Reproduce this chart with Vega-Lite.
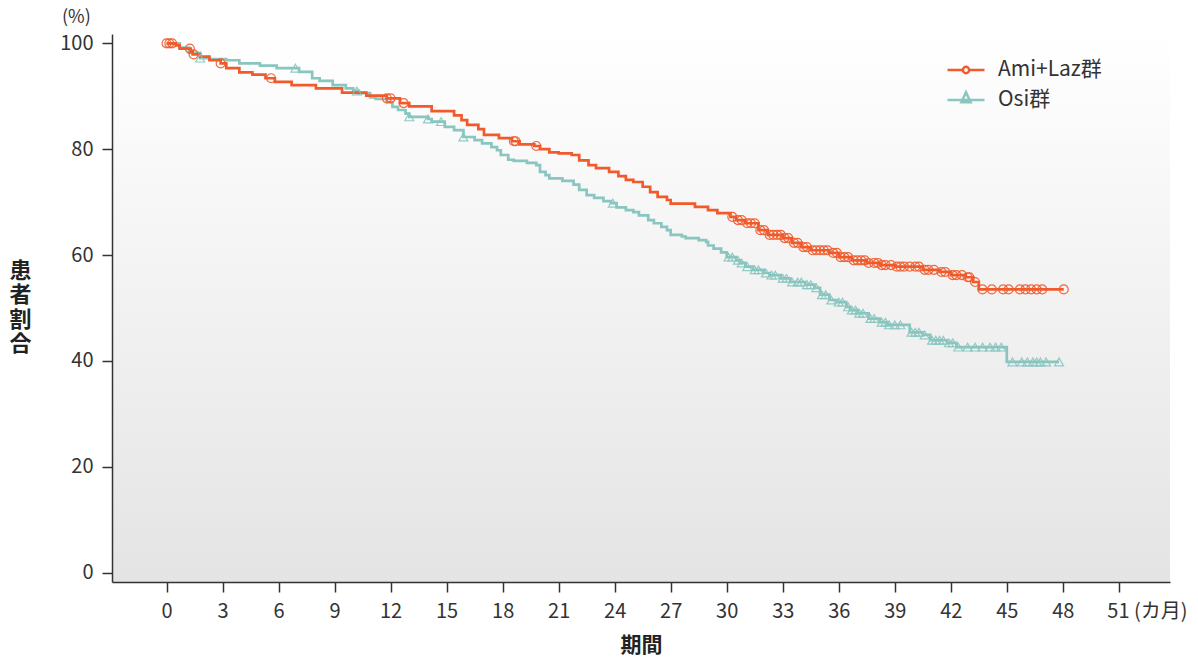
{
  "$schema": "https://vega.github.io/schema/vega-lite/v6.json",
  "width": 1058,
  "height": 548,
  "autosize": {"type": "none"},
  "padding": {"left": 112, "top": 34, "right": 28, "bottom": 76},
  "background": "white",
  "title": {"text": "(%)", "anchor": "start", "frame": "group", "dx": -50, "offset": 6, "fontSize": 18, "fontWeight": "normal", "color": "#333333", "font": "Noto Sans CJK JP"},
  "config": {
    "font": "Noto Sans CJK JP",
    "view": {"stroke": null, "fill": {"gradient": "linear", "x1": 0, "y1": 0, "x2": 0, "y2": 1, "stops": [{"offset": 0, "color": "#ffffff"}, {"offset": 1, "color": "#e4e4e4"}]}},
    "axis": {"domainColor": "#333333", "domainWidth": 1.5, "tickColor": "#333333", "tickWidth": 1.5, "tickSize": 10, "labelFontSize": 20, "labelColor": "#333333", "labelFont": "Noto Sans CJK JP", "titleFont": "Noto Sans CJK JP", "titleColor": "#222222", "grid": false, "labelOverlap": false, "labelBound": false, "labelFlush": false},
    "axisX": {"labelPadding": 9, "titlePadding": 13, "titleFontSize": 21, "titleFontWeight": "bold"},
    "axisY": {"labelPadding": 9}
  },
  "datasets": {
    "curve": [
      {"g":"Osi群","m":0,"v":100},{"g":"Osi群","m":0.7,"v":99.2},{"g":"Osi群","m":1.2,"v":98.2},{"g":"Osi群","m":1.8,"v":97.2},{"g":"Osi群","m":2.3,"v":97.0},{"g":"Osi群","m":3.2,"v":96.8},{"g":"Osi群","m":3.9,"v":96.2},{"g":"Osi群","m":5.0,"v":95.8},{"g":"Osi群","m":5.9,"v":95.3},{"g":"Osi群","m":7.1,"v":94.6},{"g":"Osi群","m":7.8,"v":93.4},{"g":"Osi群","m":8.2,"v":92.9},{"g":"Osi群","m":8.9,"v":92.1},{"g":"Osi群","m":9.6,"v":91.5},{"g":"Osi群","m":10.0,"v":91.0},{"g":"Osi群","m":10.3,"v":90.6},{"g":"Osi群","m":10.9,"v":89.8},{"g":"Osi群","m":11.2,"v":89.5},{"g":"Osi群","m":11.8,"v":88.9},{"g":"Osi群","m":12.1,"v":88.0},{"g":"Osi群","m":12.4,"v":87.4},{"g":"Osi群","m":12.8,"v":86.7},{"g":"Osi群","m":13.0,"v":86.1},{"g":"Osi群","m":14.0,"v":85.7},{"g":"Osi群","m":14.2,"v":85.2},{"g":"Osi群","m":14.9,"v":84.2},{"g":"Osi群","m":15.4,"v":83.6},{"g":"Osi群","m":15.9,"v":82.3},{"g":"Osi群","m":16.5,"v":81.7},{"g":"Osi群","m":16.9,"v":81.1},{"g":"Osi群","m":17.4,"v":80.4},{"g":"Osi群","m":17.7,"v":79.8},{"g":"Osi群","m":17.9,"v":78.9},{"g":"Osi群","m":18.3,"v":78.0},{"g":"Osi群","m":18.6,"v":77.8},{"g":"Osi群","m":19.3,"v":77.4},{"g":"Osi群","m":19.8,"v":77.0},{"g":"Osi群","m":20.0,"v":75.7},{"g":"Osi群","m":20.3,"v":75.1},{"g":"Osi群","m":20.5,"v":74.5},{"g":"Osi群","m":21.2,"v":74.0},{"g":"Osi群","m":21.8,"v":73.3},{"g":"Osi群","m":22.1,"v":72.3},{"g":"Osi群","m":22.5,"v":71.3},{"g":"Osi群","m":22.9,"v":70.8},{"g":"Osi群","m":23.4,"v":70.2},{"g":"Osi群","m":23.8,"v":69.8},{"g":"Osi群","m":24.1,"v":69.0},{"g":"Osi群","m":24.6,"v":68.5},{"g":"Osi群","m":25.0,"v":68.1},{"g":"Osi群","m":25.3,"v":67.5},{"g":"Osi群","m":25.8,"v":66.6},{"g":"Osi群","m":26.1,"v":66.0},{"g":"Osi群","m":26.5,"v":65.3},{"g":"Osi群","m":26.8,"v":64.7},{"g":"Osi群","m":27.0,"v":63.8},{"g":"Osi群","m":27.6,"v":63.5},{"g":"Osi群","m":27.8,"v":63.2},{"g":"Osi群","m":28.5,"v":62.8},{"g":"Osi群","m":28.9,"v":62.5},{"g":"Osi群","m":29.0,"v":61.8},{"g":"Osi群","m":29.3,"v":61.2},{"g":"Osi群","m":29.7,"v":60.5},{"g":"Osi群","m":30.0,"v":59.6},{"g":"Osi群","m":30.5,"v":59.0},{"g":"Osi群","m":30.7,"v":58.5},{"g":"Osi群","m":31.0,"v":57.8},{"g":"Osi群","m":31.4,"v":57.2},{"g":"Osi群","m":32.0,"v":56.6},{"g":"Osi群","m":32.3,"v":56.2},{"g":"Osi群","m":32.9,"v":55.6},{"g":"Osi群","m":33.4,"v":54.9},{"g":"Osi群","m":34.2,"v":54.4},{"g":"Osi群","m":34.7,"v":53.8},{"g":"Osi群","m":35.0,"v":52.5},{"g":"Osi群","m":35.5,"v":51.5},{"g":"Osi群","m":35.9,"v":51.1},{"g":"Osi群","m":36.4,"v":50.2},{"g":"Osi群","m":36.6,"v":49.6},{"g":"Osi群","m":37.0,"v":49.0},{"g":"Osi群","m":37.6,"v":48.0},{"g":"Osi群","m":38.2,"v":47.3},{"g":"Osi群","m":38.6,"v":46.8},{"g":"Osi群","m":39.8,"v":45.4},{"g":"Osi群","m":40.5,"v":44.9},{"g":"Osi群","m":40.9,"v":43.9},{"g":"Osi群","m":41.8,"v":43.4},{"g":"Osi群","m":42.3,"v":42.6},{"g":"Osi群","m":45.0,"v":39.8},{"g":"Osi群","m":47.8,"v":39.8},
      {"g":"Ami+Laz群","m":0,"v":100},{"g":"Ami+Laz群","m":0.5,"v":99.6},{"g":"Ami+Laz群","m":0.7,"v":99.0},{"g":"Ami+Laz群","m":1.3,"v":98.5},{"g":"Ami+Laz群","m":1.4,"v":97.9},{"g":"Ami+Laz群","m":1.8,"v":97.5},{"g":"Ami+Laz群","m":2.3,"v":96.8},{"g":"Ami+Laz群","m":2.9,"v":96.2},{"g":"Ami+Laz群","m":3.2,"v":95.3},{"g":"Ami+Laz群","m":3.9,"v":94.5},{"g":"Ami+Laz群","m":4.6,"v":94.1},{"g":"Ami+Laz群","m":5.3,"v":93.4},{"g":"Ami+Laz群","m":5.8,"v":92.7},{"g":"Ami+Laz群","m":6.7,"v":92.1},{"g":"Ami+Laz群","m":8.0,"v":91.5},{"g":"Ami+Laz群","m":9.4,"v":90.7},{"g":"Ami+Laz群","m":10.7,"v":90.1},{"g":"Ami+Laz群","m":11.8,"v":89.6},{"g":"Ami+Laz群","m":12.5,"v":88.7},{"g":"Ami+Laz群","m":13.0,"v":88.1},{"g":"Ami+Laz群","m":14.2,"v":87.2},{"g":"Ami+Laz群","m":15.4,"v":86.4},{"g":"Ami+Laz群","m":15.8,"v":85.5},{"g":"Ami+Laz群","m":16.1,"v":84.6},{"g":"Ami+Laz群","m":16.7,"v":83.8},{"g":"Ami+Laz群","m":17.0,"v":82.7},{"g":"Ami+Laz群","m":17.8,"v":82.1},{"g":"Ami+Laz群","m":18.5,"v":81.5},{"g":"Ami+Laz群","m":18.9,"v":80.9},{"g":"Ami+Laz群","m":19.7,"v":80.6},{"g":"Ami+Laz群","m":20.0,"v":80.0},{"g":"Ami+Laz群","m":20.5,"v":79.4},{"g":"Ami+Laz群","m":21.0,"v":79.2},{"g":"Ami+Laz群","m":21.7,"v":78.9},{"g":"Ami+Laz群","m":22.1,"v":77.9},{"g":"Ami+Laz群","m":22.6,"v":77.0},{"g":"Ami+Laz群","m":23.0,"v":76.4},{"g":"Ami+Laz群","m":23.7,"v":75.7},{"g":"Ami+Laz群","m":24.2,"v":74.9},{"g":"Ami+Laz群","m":24.6,"v":74.2},{"g":"Ami+Laz群","m":25.0,"v":73.8},{"g":"Ami+Laz群","m":25.5,"v":72.9},{"g":"Ami+Laz群","m":25.9,"v":71.9},{"g":"Ami+Laz群","m":26.3,"v":71.0},{"g":"Ami+Laz群","m":26.8,"v":70.4},{"g":"Ami+Laz群","m":27.0,"v":69.7},{"g":"Ami+Laz群","m":28.3,"v":69.1},{"g":"Ami+Laz群","m":29.0,"v":68.5},{"g":"Ami+Laz群","m":29.5,"v":67.9},{"g":"Ami+Laz群","m":30.2,"v":67.2},{"g":"Ami+Laz群","m":30.5,"v":66.6},{"g":"Ami+Laz群","m":31.0,"v":66.0},{"g":"Ami+Laz群","m":31.7,"v":64.7},{"g":"Ami+Laz群","m":32.2,"v":63.8},{"g":"Ami+Laz群","m":33.0,"v":63.2},{"g":"Ami+Laz群","m":33.5,"v":62.3},{"g":"Ami+Laz群","m":34.0,"v":61.5},{"g":"Ami+Laz群","m":34.5,"v":60.9},{"g":"Ami+Laz群","m":35.5,"v":60.4},{"g":"Ami+Laz群","m":36.0,"v":59.6},{"g":"Ami+Laz群","m":36.7,"v":59.0},{"g":"Ami+Laz群","m":37.5,"v":58.5},{"g":"Ami+Laz群","m":38.2,"v":58.1},{"g":"Ami+Laz群","m":39.0,"v":57.8},{"g":"Ami+Laz群","m":40.5,"v":57.2},{"g":"Ami+Laz群","m":41.4,"v":56.8},{"g":"Ami+Laz群","m":42.0,"v":56.2},{"g":"Ami+Laz群","m":42.8,"v":55.8},{"g":"Ami+Laz群","m":43.2,"v":54.9},{"g":"Ami+Laz群","m":43.5,"v":53.5},{"g":"Ami+Laz群","m":48.05,"v":53.5}
    ],
    "cens": [
      {"g":"Osi群","m":1.8,"v":97.2},{"g":"Osi群","m":6.9,"v":95.3},{"g":"Osi群","m":10.2,"v":91.0},{"g":"Osi群","m":13.0,"v":86.1},{"g":"Osi群","m":14.0,"v":85.7},{"g":"Osi群","m":14.7,"v":85.2},{"g":"Osi群","m":15.9,"v":82.3},{"g":"Osi群","m":23.9,"v":69.8},{"g":"Osi群","m":30.1,"v":59.6},{"g":"Osi群","m":30.3,"v":59.6},{"g":"Osi群","m":30.6,"v":59.0},{"g":"Osi群","m":30.8,"v":58.5},{"g":"Osi群","m":31.1,"v":57.8},{"g":"Osi群","m":31.5,"v":57.2},{"g":"Osi群","m":31.7,"v":57.2},{"g":"Osi群","m":32.1,"v":56.6},{"g":"Osi群","m":32.4,"v":56.2},{"g":"Osi群","m":32.6,"v":56.2},{"g":"Osi群","m":33.0,"v":55.6},{"g":"Osi群","m":33.2,"v":55.6},{"g":"Osi群","m":33.5,"v":54.9},{"g":"Osi群","m":33.8,"v":54.9},{"g":"Osi群","m":34.0,"v":54.9},{"g":"Osi群","m":34.3,"v":54.4},{"g":"Osi群","m":34.5,"v":54.4},{"g":"Osi群","m":34.8,"v":53.8},{"g":"Osi群","m":35.1,"v":52.5},{"g":"Osi群","m":35.3,"v":52.5},{"g":"Osi群","m":35.6,"v":51.5},{"g":"Osi群","m":36.0,"v":51.1},{"g":"Osi群","m":36.2,"v":51.1},{"g":"Osi群","m":36.5,"v":50.2},{"g":"Osi群","m":36.7,"v":49.6},{"g":"Osi群","m":36.9,"v":49.6},{"g":"Osi群","m":37.1,"v":49.0},{"g":"Osi群","m":37.3,"v":49.0},{"g":"Osi群","m":37.7,"v":48.0},{"g":"Osi群","m":37.9,"v":48.0},{"g":"Osi群","m":38.3,"v":47.3},{"g":"Osi群","m":38.5,"v":47.3},{"g":"Osi群","m":38.7,"v":46.8},{"g":"Osi群","m":39.0,"v":46.8},{"g":"Osi群","m":39.3,"v":46.8},{"g":"Osi群","m":39.9,"v":45.4},{"g":"Osi群","m":40.1,"v":45.4},{"g":"Osi群","m":40.3,"v":45.4},{"g":"Osi群","m":40.6,"v":44.9},{"g":"Osi群","m":41.0,"v":43.9},{"g":"Osi群","m":41.2,"v":43.9},{"g":"Osi群","m":41.4,"v":43.9},{"g":"Osi群","m":41.6,"v":43.9},{"g":"Osi群","m":41.9,"v":43.4},{"g":"Osi群","m":42.1,"v":43.4},{"g":"Osi群","m":42.4,"v":42.6},{"g":"Osi群","m":42.9,"v":42.6},{"g":"Osi群","m":43.3,"v":42.6},{"g":"Osi群","m":43.7,"v":42.6},{"g":"Osi群","m":44.1,"v":42.6},{"g":"Osi群","m":44.4,"v":42.6},{"g":"Osi群","m":44.7,"v":42.6},{"g":"Osi群","m":45.3,"v":39.8},{"g":"Osi群","m":45.8,"v":39.8},{"g":"Osi群","m":46.1,"v":39.8},{"g":"Osi群","m":46.4,"v":39.8},{"g":"Osi群","m":46.6,"v":39.8},{"g":"Osi群","m":46.8,"v":39.8},{"g":"Osi群","m":47.1,"v":39.8},{"g":"Osi群","m":47.8,"v":39.8},
      {"g":"Ami+Laz群","m":0,"v":100},{"g":"Ami+Laz群","m":0.15,"v":100},{"g":"Ami+Laz群","m":0.3,"v":100},{"g":"Ami+Laz群","m":1.25,"v":99.0},{"g":"Ami+Laz群","m":1.45,"v":97.9},{"g":"Ami+Laz群","m":2.9,"v":96.2},{"g":"Ami+Laz群","m":5.6,"v":93.4},{"g":"Ami+Laz群","m":11.8,"v":89.6},{"g":"Ami+Laz群","m":12.0,"v":89.6},{"g":"Ami+Laz群","m":12.7,"v":88.7},{"g":"Ami+Laz群","m":18.6,"v":81.5},{"g":"Ami+Laz群","m":18.7,"v":81.5},{"g":"Ami+Laz群","m":19.8,"v":80.6},
      {"g":"Ami+Laz群","m":30.3,"v":67.2},{"g":"Ami+Laz群","m":30.6,"v":66.6},{"g":"Ami+Laz群","m":30.8,"v":66.6},{"g":"Ami+Laz群","m":31.1,"v":66.0},{"g":"Ami+Laz群","m":31.3,"v":66.0},{"g":"Ami+Laz群","m":31.5,"v":66.0},{"g":"Ami+Laz群","m":31.8,"v":64.7},{"g":"Ami+Laz群","m":32.0,"v":64.7},{"g":"Ami+Laz群","m":32.3,"v":63.8},{"g":"Ami+Laz群","m":32.5,"v":63.8},{"g":"Ami+Laz群","m":32.7,"v":63.8},{"g":"Ami+Laz群","m":32.9,"v":63.8},{"g":"Ami+Laz群","m":33.1,"v":63.2},{"g":"Ami+Laz群","m":33.3,"v":63.2},{"g":"Ami+Laz群","m":33.6,"v":62.3},{"g":"Ami+Laz群","m":33.8,"v":62.3},{"g":"Ami+Laz群","m":34.1,"v":61.5},{"g":"Ami+Laz群","m":34.3,"v":61.5},{"g":"Ami+Laz群","m":34.6,"v":60.9},{"g":"Ami+Laz群","m":34.8,"v":60.9},{"g":"Ami+Laz群","m":35.0,"v":60.9},{"g":"Ami+Laz群","m":35.2,"v":60.9},{"g":"Ami+Laz群","m":35.4,"v":60.9},{"g":"Ami+Laz群","m":35.7,"v":60.4},{"g":"Ami+Laz群","m":35.9,"v":60.4},{"g":"Ami+Laz群","m":36.1,"v":59.6},{"g":"Ami+Laz群","m":36.3,"v":59.6},{"g":"Ami+Laz群","m":36.5,"v":59.6},{"g":"Ami+Laz群","m":36.8,"v":59.0},{"g":"Ami+Laz群","m":37.0,"v":59.0},{"g":"Ami+Laz群","m":37.2,"v":59.0},{"g":"Ami+Laz群","m":37.4,"v":59.0},{"g":"Ami+Laz群","m":37.6,"v":58.5},{"g":"Ami+Laz群","m":37.9,"v":58.5},{"g":"Ami+Laz群","m":38.1,"v":58.5},{"g":"Ami+Laz群","m":38.3,"v":58.1},{"g":"Ami+Laz群","m":38.5,"v":58.1},{"g":"Ami+Laz群","m":38.8,"v":58.1},{"g":"Ami+Laz群","m":39.1,"v":57.8},{"g":"Ami+Laz群","m":39.3,"v":57.8},{"g":"Ami+Laz群","m":39.5,"v":57.8},{"g":"Ami+Laz群","m":39.8,"v":57.8},{"g":"Ami+Laz群","m":40.1,"v":57.8},{"g":"Ami+Laz群","m":40.3,"v":57.8},{"g":"Ami+Laz群","m":40.6,"v":57.2},{"g":"Ami+Laz群","m":40.8,"v":57.2},{"g":"Ami+Laz群","m":41.1,"v":57.2},{"g":"Ami+Laz群","m":41.5,"v":56.8},{"g":"Ami+Laz群","m":41.7,"v":56.8},{"g":"Ami+Laz群","m":42.1,"v":56.2},{"g":"Ami+Laz群","m":42.3,"v":56.2},{"g":"Ami+Laz群","m":42.6,"v":56.2},{"g":"Ami+Laz群","m":42.9,"v":55.8},{"g":"Ami+Laz群","m":43.0,"v":55.8},{"g":"Ami+Laz群","m":43.3,"v":54.9},{"g":"Ami+Laz群","m":43.7,"v":53.5},{"g":"Ami+Laz群","m":44.2,"v":53.5},{"g":"Ami+Laz群","m":44.8,"v":53.5},{"g":"Ami+Laz群","m":45.1,"v":53.5},{"g":"Ami+Laz群","m":45.7,"v":53.5},{"g":"Ami+Laz群","m":46.0,"v":53.5},{"g":"Ami+Laz群","m":46.3,"v":53.5},{"g":"Ami+Laz群","m":46.6,"v":53.5},{"g":"Ami+Laz群","m":46.9,"v":53.5},{"g":"Ami+Laz群","m":48.05,"v":53.5}
    ]
  },
  "encoding": {
    "x": {"field": "m", "type": "quantitative", "scale": {"domain": [-2.92, 53.74], "nice": false, "zero": false},
      "axis": {"values": [0,3,6,9,12,15,18,21,24,27,30,33,36,39,42,45,48,51], "title": "期間",
        "labelExpr": "datum.value == 51 ? '51 (カ月)' : datum.label",
        "labelAlign": {"condition": {"test": "datum.value == 51", "value": "left"}, "value": "center"},
        "labelOffset": {"condition": {"test": "datum.value == 51", "value": -12}, "value": 0}}},
    "y": {"field": "v", "type": "quantitative", "scale": {"domain": [-1.78, 101.76], "nice": false, "zero": false},
      "axis": {"values": [0,20,40,60,80,100], "title": ["患","者","割","合"], "titleAngle": 0, "titleX": -92, "titleY": 236, "titleAlign": "center", "titleBaseline": "middle", "titleFontSize": 22, "titleLineHeight": 24.5, "titleFontWeight": "bold"}},
    "color": {"field": "g", "type": "nominal", "scale": {"domain": ["Ami+Laz群", "Osi群"], "range": ["#f15a2b", "#88c6bf"]},
      "legend": {"orient": "none", "legendX": 834, "legendY": 16, "title": null, "labelFontSize": 21, "labelColor": "#333333", "labelFont": "Noto Sans CJK JP", "symbolSize": 1369, "labelOffset": 12, "rowPadding": 0, "symbolStrokeWidth": 2.5,
        "encoding": {"symbols": {
          "shape": {"condition": {"test": "datum.value == 'Osi群'", "value": "M-1,0H1M-0.25,0.12L0,-0.42L0.25,0.12Z"}, "value": "M-1,0H-0.17A0.17,0.17 0 1,1 0.17,0A0.17,0.17 0 1,1 -0.17,0M0.17,0H1"},
          "fill": {"value": "transparent"},
          "strokeWidth": {"value": 2.5}}}}}
  },
  "layer": [
    {"data": {"name": "curve"}, "mark": {"type": "line", "interpolate": "step-after", "strokeWidth": 2.7}},
    {"data": {"name": "cens"}, "transform": [{"filter": "datum.g == 'Ami+Laz群'"}], "mark": {"type": "point", "shape": "circle", "filled": false, "strokeWidth": 1.2, "size": 80, "opacity": 0.9}},
    {"data": {"name": "cens"}, "transform": [{"filter": "datum.g == 'Osi群'"}], "mark": {"type": "point", "shape": "triangle-up", "filled": false, "strokeWidth": 1.2, "size": 80, "opacity": 0.9}}
  ]
}
